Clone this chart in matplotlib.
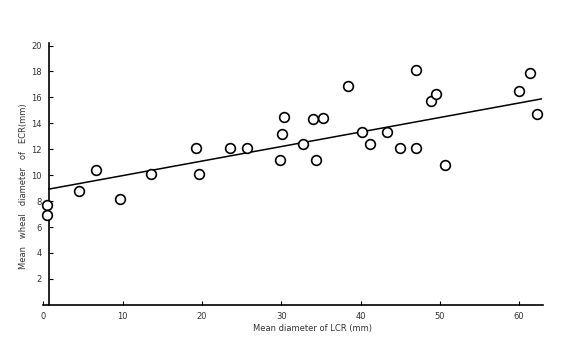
import matplotlib.pyplot as plt
import numpy as np

# LCR diameter (x) vs ECR wheal diameter (y)
lcr = [0.5, 0.5, 4.5, 6.6, 9.7, 13.6, 19.3, 19.6, 23.6, 25.7, 29.8, 30.1,
       30.4, 32.7, 34.0, 34.4, 35.3, 38.4, 40.2, 41.2, 43.3, 45.0, 47.0,
       47.0, 48.9, 49.5, 50.6, 60.0, 61.4, 62.2]
ecr = [7.7, 6.9, 8.8, 10.4, 8.2, 10.1, 12.1, 10.1, 12.1, 12.1, 11.2, 13.2,
       14.5, 12.4, 14.3, 11.2, 14.4, 16.9, 13.3, 12.4, 13.3, 12.1, 12.1,
       18.1, 15.7, 16.3, 10.8, 16.5, 17.9, 14.7]
fit_intercept = 8.85
fit_slope = 0.112
fit_range = [0.7, 62.8]
xticks = [0, 10, 20, 30, 40, 50, 60]
yticks = [2, 4, 6, 8, 10, 12, 14, 16, 18, 20]

fig = plt.figure(figsize=(5.65, 3.41), dpi=100)
ax = fig.add_axes([0.0768, 0.106, 0.884, 0.768])

xl = np.array(fit_range)
ax.plot(xl, fit_intercept + fit_slope * xl, color='black', lw=1.1, zorder=2)
ax.plot(lcr, ecr, 'o', ms=7, mfc='white', mec='black', mew=1.2,
        clip_on=False, zorder=3)

ax.set_xlim(0, 63)
ax.set_ylim(0, 20.2)
ax.set_xticks(xticks)
ax.set_yticks(yticks)
ax.spines['left'].set_position(('data', 0.7))
ax.spines['top'].set_visible(False)
ax.spines['right'].set_visible(False)
for s in ['left', 'bottom']:
    ax.spines[s].set_linewidth(1.2)
ax.tick_params(direction='in', length=3, width=0.8, labelsize=6,
               labelcolor='#333333', pad=5)
ax.set_xlabel('Mean diameter of LCR (mm)', fontsize=6, color='#333333',
              labelpad=5)
ax.xaxis.set_label_coords(0.538, -0.075)
ax.set_ylabel('Mean   wheal   diameter   of   ECR(mm)',
              fontsize=6, color='#333333')
ax.yaxis.set_label_coords(-0.03, 0.454)

fig.savefig('out.png', dpi=100)
